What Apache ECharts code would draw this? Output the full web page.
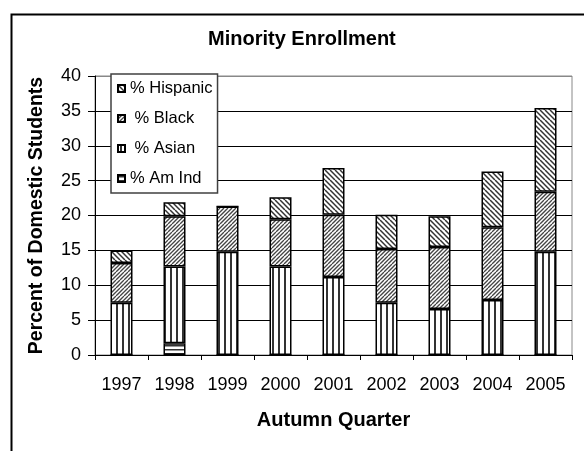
<!DOCTYPE html>
<html>
<head>
<meta charset="utf-8">
<script src="https://cdn.jsdelivr.net/npm/echarts@6/dist/echarts.min.js"></script>
<style>html,body{margin:0;padding:0;background:#fff;}#c{width:584px;height:451px;}</style>
</head>
<body>
<div id="c"></div>
<script>
const years = ['1997','1998','1999','2000','2001','2002','2003','2004','2005'];
const amInd    = [0, 1.7, 0, 0, 0, 0, 0, 0, 0];
const asian    = [7.5, 11.0, 14.8, 12.7, 11.2, 7.5, 6.6, 7.9, 14.8];
const black    = [5.7, 7.2, 6.5, 6.75, 8.9, 7.7, 8.9, 10.4, 8.6];
const hispanic = [1.8, 2.0, 0, 3.15, 6.7, 4.9, 4.4, 8.0, 12.0];
const seriesNames = ['% Am Ind', ' % Asian', ' % Black', '% Hispanic'];
const yTicks = [0, 5, 10, 15, 20, 25, 30, 35, 40];

function pattern(kind) {
  const c = document.createElement('canvas');
  const ctx = c.getContext('2d');
  let s;
  if (kind === 'vert') {
    s = 6; c.width = s; c.height = s;
    ctx.fillStyle = '#fff'; ctx.fillRect(0, 0, s, s);
    ctx.fillStyle = '#333'; ctx.fillRect(2, 0, 2, s);
  } else if (kind === 'horiz') {
    s = 4; c.width = s; c.height = s;
    ctx.fillStyle = '#fff'; ctx.fillRect(0, 0, s, s);
    ctx.fillStyle = '#333'; ctx.fillRect(0, 1, s, 1.5);
  } else if (kind === 'fwd') {
    s = 8; c.width = s; c.height = s;
    ctx.fillStyle = '#fff'; ctx.fillRect(0, 0, s, s);
    ctx.strokeStyle = '#444'; ctx.lineWidth = 1.3;
    for (let k = -8; k <= 16; k += 4) {
      ctx.beginPath(); ctx.moveTo(k, s); ctx.lineTo(k + s, 0); ctx.stroke();
    }
  } else {
    s = 10; c.width = s; c.height = s;
    ctx.fillStyle = '#fff'; ctx.fillRect(0, 0, s, s);
    ctx.strokeStyle = '#333'; ctx.lineWidth = 1.5;
    for (let k = -10; k <= 20; k += 5) {
      ctx.beginPath(); ctx.moveTo(k, 0); ctx.lineTo(k + s, s); ctx.stroke();
    }
  }
  return { image: c, repeat: 'repeat' };
}

const barStyle = (kind) => ({ color: pattern(kind), borderColor: '#000', borderWidth: 1.5 });
const FONT = 'Liberation Sans, Arial, sans-serif';

const chart = echarts.init(document.getElementById('c'), null, { renderer: 'canvas' });
chart.setOption({
  animation: false,
  backgroundColor: '#fff',
  textStyle: { fontFamily: FONT, color: '#000' },
  title: {
    text: 'Minority Enrollment',
    left: 208, top: 29, padding: 0,
    textStyle: { fontFamily: FONT, fontSize: 20, fontWeight: 'bold', color: '#000' }
  },
  graphic: [{
    type: 'rect', left: 9, top: 12, silent: true,
    shape: { width: 700, height: 600 },
    style: { fill: null, stroke: '#000', lineWidth: 2 }
  }],
  legend: {
    data: [seriesNames[3], seriesNames[2], seriesNames[1], seriesNames[0]],
    orient: 'vertical',
    left: 111, top: 74,
    padding: [6, 5, 6, 6],
    itemWidth: 7, itemHeight: 7, itemGap: 13, itemTextGap: 9,
    icon: 'rect',
    borderColor: '#404040', borderWidth: 1.5, backgroundColor: '#fff',
    textStyle: { fontFamily: FONT, fontSize: 16.5, color: '#000' },
    z: 10
  },
  grid: {
    left: 95, right: 12, top: 76, bottom: 96,
    show: true, borderColor: '#888', borderWidth: 1, backgroundColor: '#fff'
  },
  xAxis: {
    type: 'category', data: years,
    name: 'Autumn Quarter', nameLocation: 'middle', nameGap: 55,
    nameTextStyle: { fontFamily: FONT, fontSize: 20, fontWeight: 'bold', color: '#000' },
    axisLine: { lineStyle: { color: '#000', width: 1 } },
    axisTick: { show: true, length: 5, lineStyle: { color: '#000' } },
    axisLabel: { fontFamily: FONT, fontSize: 18, color: '#000', margin: 21 }
  },
  yAxis: {
    type: 'value', min: yTicks[0], max: yTicks[yTicks.length - 1], interval: 5,
    name: 'Percent of Domestic Students', nameLocation: 'middle', nameGap: 48,
    nameTextStyle: { fontFamily: FONT, fontSize: 19.5, fontWeight: 'bold', color: '#000' },
    axisLine: { show: true, lineStyle: { color: '#000', width: 1 } },
    axisTick: { show: true, length: 7, lineStyle: { color: '#000' } },
    axisLabel: { fontFamily: FONT, fontSize: 18, color: '#000', margin: 14 },
    splitLine: { show: true, lineStyle: { color: ['#000','#000','#000','#000','#000','#000','#000','#000','#888'], width: 1 } }
  },
  series: [
    { name: seriesNames[0], type: 'bar', stack: 'e', data: amInd, barWidth: 22, itemStyle: barStyle('horiz') },
    { name: seriesNames[1], type: 'bar', stack: 'e', data: asian, barWidth: 22, itemStyle: barStyle('vert') },
    { name: seriesNames[2], type: 'bar', stack: 'e', data: black, barWidth: 22, itemStyle: barStyle('fwd') },
    { name: seriesNames[3], type: 'bar', stack: 'e', data: hispanic, barWidth: 22, itemStyle: barStyle('back') }
  ]
});
</script>
</body>
</html>
